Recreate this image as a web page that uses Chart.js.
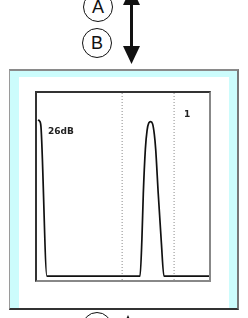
<!DOCTYPE html>
<html lang="en">
<head>
    <meta charset="UTF-8">
    <title>Signal trace</title>
    <script src="https://cdn.jsdelivr.net/npm/chart.js"></script>
    <style>
        body { margin: 0; background: #fff; }
        #stage { position: relative; width: 248px; height: 318px; overflow: hidden; font-family: "Liberation Sans", Arial, sans-serif; }
        .circle {
            position: absolute; width: 28px; height: 28px; border: 1.5px solid #111; border-radius: 50%;
            text-align: center; line-height: 28px; font-size: 18px; color: #111;
        }
        #panel {
            position: absolute; left: 9px; top: 69px; width: 227px; height: 237px;
            background: #ccfcfc;
            border-top: 2px solid #8a8a8a; border-left: 1px solid #9a9a9a;
            border-right: 2px solid #777; border-bottom: 2px solid #333;
        }
        #inner { position: absolute; left: 9px; top: 6px; width: 210px; height: 231px; background: #fff; }
        #box {
            position: absolute; left: 35px; top: 91px; width: 172px; height: 187px;
            border-top: 2px solid #333; border-left: 2px solid #333;
            border-right: 2px solid #888; border-bottom: 2px solid #888;
        }
        #arrows { position: absolute; left: 0; top: 0; }
    </style>
</head>
<body>
<div id="stage">
    <div class="circle" style="left:83px; top:-8px;">A</div>
    <div class="circle" style="left:82px; top:28px;">B</div>
    <div class="circle" style="left:82px; top:312px;"></div>
    <svg id="arrows" width="248" height="318">
        <line x1="131.5" y1="0" x2="131.5" y2="50" stroke="#111" stroke-width="3"/>
        <polygon points="123,5 140,5 131.5,-13" fill="#111"/>
        <polygon points="123,46 140,46 131.5,64" fill="#111"/>
        <polygon points="119.5,334 136.5,334 128,315" fill="#111"/>
    </svg>
    <div id="panel"><div id="inner"></div></div>
    <div id="box"><canvas id="trace" width="172" height="187"></canvas></div>
</div>

<script>
    // trace sample positions (0-100 across the screen) and levels (0-100 of height)
    const traceX = [0.6, 1.5, 2.3, 5.8, 30, 59.9, 61, 61.8, 63, 64, 65, 66.1, 67.2, 68.2, 69, 70.5, 72.3, 73.8, 100];
    const traceY = [85.6, 85, 82, 2.1, 2.1, 2.1, 22, 46, 70, 80, 84, 84.7, 83.5, 78, 70, 46, 20, 2.1, 2.1];

    // dotted marker lines
    const markerX = [49.5, 79.7];

    // text labels on screen
    const labels = [
        { text: "26dB", x: 6.4, y: 81.5 },
        { text: "1", x: 85.5, y: 91 }
    ];

    const datasets = [{
        data: traceX.map((x, i) => ({ x: x, y: traceY[i] })),
        borderColor: "#111",
        borderWidth: 1.7,
        pointRadius: 0,
        cubicInterpolationMode: "monotone"
    }];
    markerX.forEach(x => {
        datasets.push({
            data: [{ x: x, y: 0 }, { x: x, y: 100 }],
            borderColor: "#8a8a8a",
            borderWidth: 1,
            borderDash: [1, 2],
            pointRadius: 0
        });
    });

    const labelPlugin = {
        id: "screenLabels",
        afterDatasetsDraw(chart) {
            const ctx = chart.ctx;
            ctx.save();
            ctx.fillStyle = "#222";
            ctx.font = "bold 9px 'DejaVu Sans', sans-serif";
            ctx.textBaseline = "top";
            labels.forEach(l => {
                ctx.fillText(l.text, chart.scales.x.getPixelForValue(l.x), chart.scales.y.getPixelForValue(l.y));
            });
            ctx.restore();
        }
    };

    new Chart(document.getElementById("trace"), {
        type: "line",
        data: { datasets: datasets },
        options: {
            responsive: false,
            animation: false,
            layout: { padding: 0 },
            plugins: { legend: { display: false }, tooltip: { enabled: false } },
            scales: {
                x: { type: "linear", min: 0, max: 100, display: false },
                y: { min: 0, max: 100, display: false }
            }
        },
        plugins: [labelPlugin]
    });
</script>
</body>
</html>
